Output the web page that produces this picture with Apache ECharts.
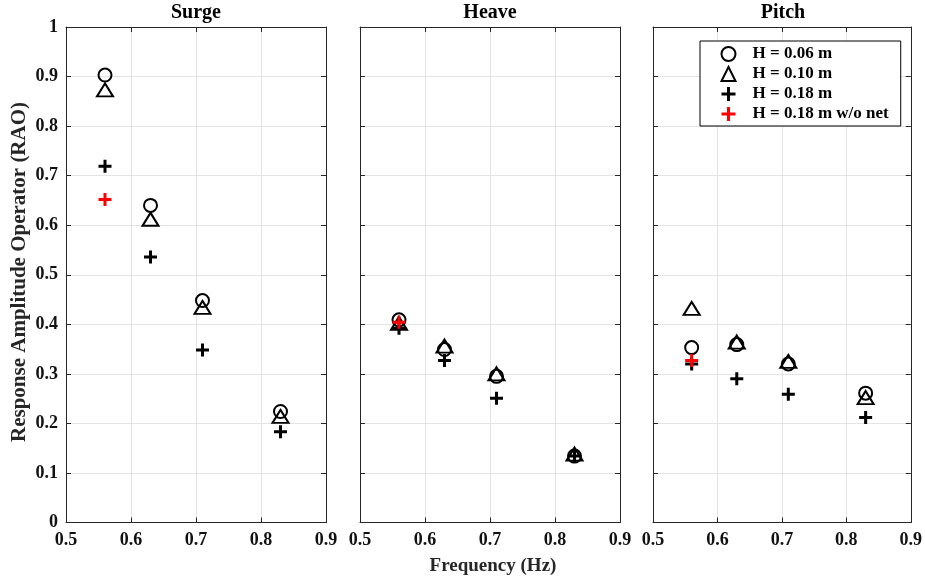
<!DOCTYPE html>
<html>
<head>
<meta charset="utf-8">
<title>Response Amplitude Operator</title>
<script src="https://cdn.jsdelivr.net/npm/echarts@6/dist/echarts.min.js"></script>
<style>
  html, body { margin: 0; padding: 0; background: #fff; }
  #chart { width: 925px; height: 583px; }
</style>
</head>
<body>
<div id="chart"></div>
<script>
// Wave frequencies (Hz)
const freq = [0.56, 0.63, 0.71, 0.83];

// Surge RAO
const surgeH006 = [0.903, 0.640, 0.448, 0.224];
const surgeH010 = [0.873, 0.612, 0.434, 0.214];
const surgeH018 = [0.719, 0.536, 0.348, 0.183];
const surgeH018NoNet = [0.652];

// Heave RAO
const heaveH006 = [0.409, 0.349, 0.295, 0.134];
const heaveH010 = [0.402, 0.356, 0.300, 0.138];
const heaveH018 = [0.392, 0.327, 0.251, 0.134];
const heaveH018NoNet = [0.404];

// Pitch RAO
const pitchH006 = [0.353, 0.359, 0.320, 0.261];
const pitchH010 = [0.432, 0.364, 0.325, 0.252];
const pitchH018 = [0.320, 0.290, 0.259, 0.212];
const pitchH018NoNet = [0.327];

const panelTitles = ['Surge', 'Heave', 'Pitch'];
const seriesNames = ['H = 0.06 m', 'H = 0.10 m', 'H = 0.18 m', 'H = 0.18 m w/o net'];
const xTicks = { min: 0.5, max: 0.9, step: 0.1 };
const yTicks = { min: 0, max: 1, step: 0.1 };

const panels = [
  [surgeH006, surgeH010, surgeH018, surgeH018NoNet],
  [heaveH006, heaveH010, heaveH018, heaveH018NoNet],
  [pitchH006, pitchH010, pitchH018, pitchH018NoNet]
];

const FONT = "'Liberation Serif', 'Times New Roman', serif";
const AXIS_COLOR = '#262626';
const GRID_COLOR = '#e4e4e4';
const PLUS_PATH = 'path://M0,6H12M6,0V12';

const panelLeft = [66, 360, 653];
const panelWidth = 260;
const panelTop = 27;
const panelHeight = 495.5;

const fmt = v => String(+(+v).toFixed(1));

const grids = [], xAxes = [], yAxes = [], series = [];

// Marker styles, one per wave-height case
const markerStyles = [
  { symbol: 'circle', symbolSize: 13, itemStyle: { color: 'transparent', borderColor: '#000', borderWidth: 2, opacity: 1 } },
  { symbol: 'triangle', symbolSize: [16, 13], itemStyle: { color: 'transparent', borderColor: '#000', borderWidth: 2, opacity: 1 } },
  { symbol: PLUS_PATH, symbolSize: 13, itemStyle: { color: 'transparent', borderColor: '#000', borderWidth: 3, opacity: 1 } },
  { symbol: PLUS_PATH, symbolSize: 13, itemStyle: { color: 'transparent', borderColor: '#ff0000', borderWidth: 3, opacity: 1 } }
];

panels.forEach((sets, p) => {
  grids.push({ left: panelLeft[p], top: panelTop, width: panelWidth, height: panelHeight, containLabel: false });

  const baseX = {
    gridIndex: p, type: 'value', min: xTicks.min, max: xTicks.max, interval: xTicks.step,
    axisLine: { show: true, onZero: false, lineStyle: { color: AXIS_COLOR, width: 1 } },
    axisTick: { show: true, inside: true, length: 5, lineStyle: { color: AXIS_COLOR } }
  };
  xAxes.push(Object.assign({}, baseX, {
    position: 'bottom',
    axisLabel: { show: true, formatter: fmt, margin: 9, color: '#111', fontFamily: FONT, fontWeight: 'bold', fontSize: 18, showMinLabel: true, showMaxLabel: true },
    splitLine: { show: true, lineStyle: { color: GRID_COLOR, width: 1 } }
  }));
  xAxes.push(Object.assign({}, baseX, {
    position: 'top', axisLabel: { show: false }, splitLine: { show: false }
  }));

  const baseY = {
    gridIndex: p, type: 'value', min: yTicks.min, max: yTicks.max, interval: yTicks.step,
    axisLine: { show: true, onZero: false, lineStyle: { color: AXIS_COLOR, width: 1 } },
    axisTick: { show: true, inside: true, length: 5, lineStyle: { color: AXIS_COLOR } }
  };
  yAxes.push(Object.assign({}, baseY, {
    position: 'left',
    axisLabel: { show: p === 0, formatter: fmt, margin: 8, color: '#111', fontFamily: FONT, fontWeight: 'bold', fontSize: 18, showMinLabel: true, showMaxLabel: true },
    splitLine: { show: true, lineStyle: { color: GRID_COLOR, width: 1 } }
  }));
  yAxes.push(Object.assign({}, baseY, {
    position: 'right', axisLabel: { show: false }, splitLine: { show: false }
  }));

  sets.forEach((vals, s) => {
    series.push(Object.assign({
      name: seriesNames[s], type: 'scatter', xAxisIndex: p * 2, yAxisIndex: p * 2,
      data: vals.map((v, k) => [freq[k], v]),
      emphasis: { disabled: true }, silent: true, z: 2 + s
    }, markerStyles[s]));
  });
});

const chart = echarts.init(document.getElementById('chart'), null, { renderer: 'canvas' });
chart.setOption({
  animation: false,
  backgroundColor: '#fff',
  grid: grids,
  xAxis: xAxes,
  yAxis: yAxes,
  series: series,
  legend: {
    orient: 'vertical', left: 700, top: 41,
    padding: [3, 12, 2, 20],
    backgroundColor: '#fff', borderColor: '#000', borderWidth: 1,
    itemWidth: 14, itemHeight: 14, itemGap: 0,
    textStyle: { fontFamily: FONT, fontWeight: 'bold', fontSize: 17, color: '#000', lineHeight: 20, padding: [0, 0, 0, 12] },
    selectedMode: false,
    data: seriesNames.map((n, i) => ({
      name: n,
      itemStyle: { borderWidth: i < 2 ? 2 : 3, opacity: 1 }
    }))
  },
  graphic: [
    ...panelTitles.map((t, p) => ({
      type: 'text', x: panelLeft[p] + panelWidth / 2, y: 13,
      style: { text: t, font: "bold 20px " + FONT, fill: '#000', textAlign: 'center', textVerticalAlign: 'middle' }
    })),
    {
      type: 'text', x: 493, y: 566,
      style: { text: 'Frequency (Hz)', font: "bold 19px " + FONT, fill: '#262626', textAlign: 'center', textVerticalAlign: 'middle' }
    },
    {
      type: 'text', x: 20, y: 272, rotation: Math.PI / 2,
      style: { text: 'Response Amplitude Operator (RAO)', font: "bold 21px " + FONT, fill: '#262626', textAlign: 'center', textVerticalAlign: 'middle' }
    }
  ]
});
</script>
</body>
</html>
